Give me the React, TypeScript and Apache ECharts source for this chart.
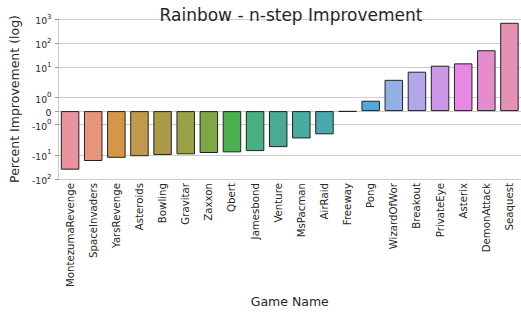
import React, { useEffect, useRef } from "react";
import * as echarts from "echarts";

const categories = [
  "MontezumaRevenge", "SpaceInvaders", "YarsRevenge", "Asteroids", "Bowling",
  "Gravitar", "Zaxxon", "Qbert", "Jamesbond", "Venture", "MsPacman", "AirRaid",
  "Freeway", "Pong", "WizardOfWor", "Breakout", "PrivateEye", "Asterix",
  "DemonAttack", "Seaquest",
];
const improvements = [
  -41, -18, -13.3, -11.4, -10.1, -9.5, -8.4, -7.9, -7.0, -4.8, -2.1, -1.73,
  -0.05, 0.77, 3.04, 6.6, 11.7, 14.6, 51, 697,
];
const barColors = [
  "#e8939f", "#e8957f", "#d6964a", "#bf9a4c", "#aa9b48", "#9aa147", "#7fa845",
  "#4bb051", "#4ab083", "#4aaa95", "#4aab9f", "#4aa9ae", "#4aa8c0", "#4fabd9",
  "#93afe6", "#b3a6ea", "#cc97e6", "#e788e2", "#e68bcc", "#e690b4",
];
const yTickValues = [-100, -10, -1, 0, 1, 10, 100, 1000];
const yTickBases = ["-10", "-10", "-10", "0", "10", "10", "10", "10"];
const yTickExponents = ["2", "1", "0", "", "0", "1", "2", "3"];

// matplotlib symlog scale (linthresh = 2, linscale = 1, base 10)
const LINTHRESH = 2;
const LINSCALE_ADJ = 1 / (1 - 1 / 10);
function symlog(v: number): number {
  const a = Math.abs(v);
  if (a <= LINTHRESH) return v * LINSCALE_ADJ;
  return Math.sign(v) * LINTHRESH * (LINSCALE_ADJ + Math.log10(a / LINTHRESH));
}

export default function App() {
  const ref = useRef<HTMLDivElement>(null);
  useEffect(() => {
    if (!ref.current) return;
    const chart = echarts.init(ref.current, null, { renderer: "svg" });
    const tickPos = yTickValues.map(symlog);
    const font = "DejaVu Sans";
    chart.setOption({
      animation: false,
      textStyle: { fontFamily: font },
      title: {
        text: "Rainbow - n-step Improvement",
        left: 286,
        top: 1,
        textAlign: "center",
        textStyle: { fontFamily: font, fontSize: 17, fontWeight: "normal", color: "#262626" },
      },
      grid: { left: 52, right: 0, top: 19, bottom: 129, containLabel: false },
      xAxis: {
        type: "category",
        data: categories,
        name: "Game Name",
        nameLocation: "middle",
        nameGap: 116,
        nameTextStyle: { fontFamily: font, fontSize: 12.5, color: "#262626" },
        axisLine: { onZero: false, lineStyle: { color: "#cccccc", width: 1 } },
        axisTick: { show: false },
        axisLabel: {
          rotate: 90,
          interval: 0,
          margin: 4,
          fontFamily: font,
          fontSize: 10.2,
          color: "#262626",
        },
      },
      yAxis: {
        type: "value",
        min: symlog(-100),
        max: symlog(1000),
        name: "Percent Improvement (log)",
        nameLocation: "middle",
        nameGap: 31,
        nameTextStyle: { fontFamily: font, fontSize: 12.5, color: "#262626" },
        axisLine: { show: true, lineStyle: { color: "#cccccc", width: 1 } },
        axisTick: {
          show: true,
          length: 3.5,
          customValues: tickPos,
          lineStyle: { color: "#999999" },
        },
        splitLine: { show: true, lineStyle: { color: "#cccccc", width: 1 } },
        axisLabel: {
          customValues: tickPos,
          margin: 7,
          fontFamily: font,
          color: "#262626",
          rich: {
            n: { fontFamily: font, fontSize: 9.3, color: "#262626", verticalAlign: "bottom", lineHeight: 12 },
            s: { fontFamily: font, fontSize: 7, color: "#262626", verticalAlign: "top", lineHeight: 12 },
          },
          formatter: (val: number) => {
            let best = 0;
            for (let i = 0; i < tickPos.length; i++) {
              if (Math.abs(tickPos[i] - val) < Math.abs(tickPos[best] - val)) best = i;
            }
            const e = yTickExponents[best];
            return e ? `{n|${yTickBases[best]}}{s|${e}}` : `{n|${yTickBases[best]}}`;
          },
        },
      },
      series: [
        {
          type: "bar",
          barCategoryGap: "20%",
          data: improvements.map((v, i) => ({
            value: symlog(v),
            itemStyle: { color: barColors[i] },
          })),
          itemStyle: { borderColor: "#222222", borderWidth: 1 },
        },
      ],
    });
    return () => chart.dispose();
  }, []);
  return <div ref={ref} style={{ width: 521, height: 313, position: "absolute", left: 0, top: 0 }} />;
}
